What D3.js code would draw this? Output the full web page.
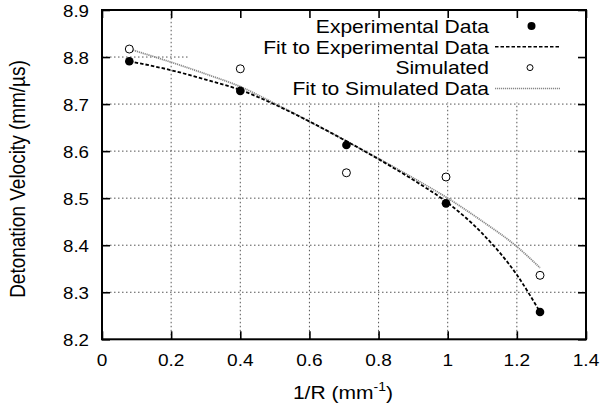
<!DOCTYPE html>
<html><head><meta charset="utf-8">
<script src="https://cdn.jsdelivr.net/npm/d3@7/dist/d3.min.js"></script>
<style>body{margin:0;background:#fff}svg{display:block}text{font-family:"Liberation Sans",Arial,Helvetica,sans-serif;fill:#000}</style>
</head><body>
<script>
// ---- data ----
const xTicks = [0, 0.2, 0.4, 0.6, 0.8, 1, 1.2, 1.4];
const xTickLabels = ["0", "0.2", "0.4", "0.6", "0.8", "1", "1.2", "1.4"];
const yTicks = [8.2, 8.3, 8.4, 8.5, 8.6, 8.7, 8.8, 8.9];
const yTickLabels = ["8.2", "8.3", "8.4", "8.5", "8.6", "8.7", "8.8", "8.9"];
const expX = [0.079, 0.400, 0.707, 0.995, 1.267];
const expY = [8.791, 8.728, 8.613, 8.489, 8.258];
const simX = [0.079, 0.400, 0.707, 0.995, 1.267];
const simY = [8.817, 8.775, 8.554, 8.545, 8.336];
const fitX = [0.079, 0.2, 0.3, 0.4, 0.5, 0.6, 0.7, 0.8, 0.9, 1.0, 1.1, 1.2, 1.267];
const expFitY = [8.791, 8.772, 8.752, 8.730, 8.699, 8.663, 8.624, 8.583, 8.539, 8.490, 8.425, 8.337, 8.258];
const simFitY = [8.817, 8.789, 8.764, 8.737, 8.701, 8.663, 8.624, 8.584, 8.543, 8.500, 8.451, 8.397, 8.352];
const legendLabels = ["Experimental Data", "Fit to Experimental Data", "Simulated", "Fit to Simulated Data"];

const W = 604, H = 407;
const L = 102, R = 586, T = 10, B = 339.3;
const SX = 1.17; // horizontal stretch of glyphs

const svg = d3.select("body").append("svg").attr("width", W).attr("height", H);
const x = d3.scaleLinear().domain([0, 1.4]).range([L, R]);
const y = d3.scaleLinear().domain([8.2, 8.9]).range([B, T]);

function stext(g, px, py, str, size, anchor) {
  return g.append("text")
    .attr("transform", `translate(${px},${py}) scale(${SX},1)`)
    .attr("text-anchor", anchor).style("font-size", size + "px").text(str);
}

// grid
const grid = svg.append("g").attr("stroke", "#555").attr("stroke-width", 1).attr("stroke-dasharray", "1.5,2.5");
grid.selectAll("line.v").data(xTicks.filter(t => t > 0 && t < 1.4)).join("line")
  .attr("x1", d => x(d)).attr("x2", d => x(d)).attr("y1", B).attr("y2", T);
grid.selectAll("line.h").data(yTicks.filter(t => t > 8.2 && t < 8.9)).join("line")
  .attr("x1", L).attr("x2", R).attr("y1", d => y(d)).attr("y2", d => y(d));

// opaque key area
svg.append("rect").attr("x", 188).attr("y", T + 1).attr("width", R - 188 - 1).attr("height", 101.5 - T).attr("fill", "#fff");

// axes (ticks inward on all sides)
const axG = svg.append("g");
const tick = 8;
const xAxB = d3.axisBottom(x).tickValues(xTicks).tickSize(-tick).tickFormat("");
const xAxT = d3.axisTop(x).tickValues(xTicks).tickSize(-tick).tickFormat("");
const yAxL = d3.axisLeft(y).tickValues(yTicks).tickSize(-tick).tickFormat("");
const yAxR = d3.axisRight(y).tickValues(yTicks).tickSize(-tick).tickFormat("");
[[xAxB, `translate(0,${B})`], [xAxT, `translate(0,${T})`], [yAxL, `translate(${L},0)`], [yAxR, `translate(${R},0)`]].forEach(([a, tr]) => {
  const g = axG.append("g").attr("transform", tr).call(a);
  g.select(".domain").remove();
  g.selectAll("line").attr("stroke", "#000").attr("stroke-width", 1.6);
});
axG.append("rect").attr("x", L).attr("y", T).attr("width", R - L).attr("height", B - T)
  .attr("fill", "none").attr("stroke", "#000").attr("stroke-width", 2);

// tick labels
const tl = svg.append("g");
xTicks.forEach((t, i) => stext(tl, x(t), 366, xTickLabels[i], 16.3, "middle"));
yTicks.forEach((t, i) => stext(tl, 89, y(t) + 6.5, yTickLabels[i], 16, "end"));

// axis labels
const xl = svg.append("text").attr("transform", `translate(343,399) scale(${SX},1)`)
  .attr("text-anchor", "middle").style("font-size", "18px");
xl.append("tspan").text("1/R (mm");
xl.append("tspan").attr("dy", -8).style("font-size", "12px").text("-1");
xl.append("tspan").attr("dy", 8).text(")");
svg.append("text").attr("transform", `translate(25,179) scale(${SX},1) rotate(-90)`)
  .attr("text-anchor", "middle").style("font-size", "19px").text("Detonation Velocity (mm/\u00b5s)");

// fits
const line = d3.line().x(d => x(d[0])).y(d => y(d[1])).curve(d3.curveMonotoneX);
const simFitData = fitX.map((v, i) => [v, simFitY[i]]);
const expFitData = fitX.map((v, i) => [v, expFitY[i]]);
svg.append("path").attr("d", line(simFitData)).attr("fill", "none")
  .attr("stroke", "#888").attr("stroke-width", 1.8).attr("stroke-dasharray", "1.2,0.8");
svg.append("path").attr("d", line(expFitData)).attr("fill", "none")
  .attr("stroke", "#000").attr("stroke-width", 1.8).attr("stroke-dasharray", "3.5,2");

// points
svg.append("g").selectAll("circle").data(simX.map((v, i) => [v, simY[i]])).join("circle")
  .attr("cx", d => x(d[0])).attr("cy", d => y(d[1])).attr("r", 4)
  .attr("fill", "#fff").attr("stroke", "#000").attr("stroke-width", 1);
svg.append("g").selectAll("circle").data(expX.map((v, i) => [v, expY[i]])).join("circle")
  .attr("cx", d => x(d[0])).attr("cy", d => y(d[1])).attr("r", 4.3).attr("fill", "#000");

// legend
const lg = svg.append("g");
const rowY = i => 26 + 20.8 * i;
legendLabels.forEach((s, i) => stext(lg, 489, rowY(i) + 6.8, s, 18, "end"));
lg.append("circle").attr("cx", 531.5).attr("cy", rowY(0)).attr("r", 4).attr("fill", "#000");
lg.append("line").attr("x1", 495).attr("x2", 560).attr("y1", rowY(1)).attr("y2", rowY(1))
  .attr("stroke", "#000").attr("stroke-width", 1.5).attr("stroke-dasharray", "3.5,2");
lg.append("circle").attr("cx", 530).attr("cy", rowY(2)).attr("r", 3).attr("fill", "#fff").attr("stroke", "#000").attr("stroke-width", 1);
lg.append("line").attr("x1", 495).attr("x2", 560).attr("y1", rowY(3)).attr("y2", rowY(3))
  .attr("stroke", "#888").attr("stroke-width", 1.5).attr("stroke-dasharray", "1.2,0.8");
</script>
</body></html>
